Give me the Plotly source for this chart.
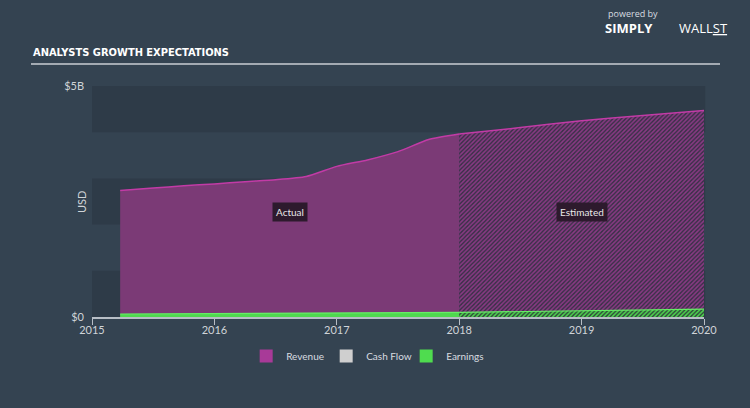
import plotly.graph_objects as go

# ---- data ----
rev_actual_x = [2015.23, 2015.5, 2015.75, 2016.0, 2016.25, 2016.5, 2016.75, 2017.0, 2017.25, 2017.5, 2017.75, 2018.0]
rev_actual_y = [2.74, 2.79, 2.84, 2.88, 2.93, 2.97, 3.04, 3.26, 3.40, 3.58, 3.84, 3.96]
rev_est_x = [2018.0, 2018.5, 2019.0, 2019.5, 2020.0]
rev_est_y = [3.96, 4.10, 4.25, 4.36, 4.47]
earn_actual_x = [2015.23, 2015.75, 2016.25, 2016.75, 2017.25, 2017.75, 2018.0]
earn_actual_y = [0.065, 0.07, 0.075, 0.085, 0.09, 0.095, 0.10]
earn_est_x = [2018.0, 2019.0, 2020.0]
earn_est_y = [0.10, 0.14, 0.17]
year_ticks = [2015, 2016, 2017, 2018, 2019, 2020]
y_ticks = [0, 5]
y_ticktext = ["$0", "$5B"]
legend_names = ["Revenue", "Cash Flow", "Earnings"]
legend_colors = ["#a83a98", "#cfcfcf", "#4fdc4f"]

BG = "#344351"
BAND = "#2e3b48"
REV_FILL = "#7b3a76"
REV_LINE = "#c23ba6"
EARN_FILL = "#4fd84f"
EARN_LINE = "#66ee66"
FONT = "Lato"

fig = go.Figure()

fig.add_trace(go.Scatter(x=rev_actual_x, y=rev_actual_y, mode="lines", fill="tozeroy",
                         line=dict(color=REV_LINE, width=1.5, shape="spline", smoothing=0.6),
                         fillcolor=REV_FILL, showlegend=False, hoverinfo="skip"))
fig.add_trace(go.Scatter(x=rev_est_x, y=rev_est_y, mode="lines", fill="tozeroy",
                         line=dict(color=REV_LINE, width=1.5, shape="spline", smoothing=0.6),
                         fillpattern=dict(shape="/", bgcolor="#3a3048", fgcolor="#8c3a86",
                                          size=3, solidity=0.5, fillmode="replace"),
                         showlegend=False, hoverinfo="skip"))
fig.add_trace(go.Scatter(x=earn_actual_x, y=earn_actual_y, mode="lines", fill="tozeroy",
                         line=dict(color=EARN_LINE, width=1.2),
                         fillcolor=EARN_FILL, showlegend=False, hoverinfo="skip"))
fig.add_trace(go.Scatter(x=earn_est_x, y=earn_est_y, mode="lines", fill="tozeroy",
                         line=dict(color=EARN_LINE, width=1.2),
                         fillpattern=dict(shape="/", bgcolor="#2f4a3a", fgcolor="#4fd84f",
                                          size=3, solidity=0.5, fillmode="replace"),
                         showlegend=False, hoverinfo="skip"))

for name, col in zip(legend_names, legend_colors):
    fig.add_trace(go.Scatter(x=[None], y=[None], mode="markers", name=name,
                             marker=dict(symbol="square", size=13, color=col)))

shapes = []
for lo in [0, 2, 4]:
    shapes.append(dict(type="rect", xref="paper", yref="y", x0=0, x1=1.002, y0=lo, y1=lo + 1,
                       fillcolor=BAND, line=dict(width=0), layer="below"))
# title underline
shapes.append(dict(type="line", xref="paper", yref="paper",
                   x0=(31 - 92) / 612, x1=(720 - 92) / 612,
                   y0=(317 - 64) / 231, y1=(317 - 64) / 231,
                   line=dict(color="#c9cdd3", width=1.5)))

def px(xp):
    return (xp - 92) / 612

def py(yp):
    return (317 - yp) / 231

annotations = [
    dict(text="ANALYSTS GROWTH EXPECTATIONS", xref="paper", yref="paper", x=px(31), y=py(52),
         xanchor="left", yanchor="middle", showarrow=False,
         font=dict(family="DejaVu Sans Condensed, DejaVu Sans, sans-serif", size=11,
                   color="#ffffff", weight="bold")),
    dict(text="USD", xref="paper", yref="paper", x=px(81), y=py(202), textangle=-90,
         xanchor="center", yanchor="middle", showarrow=False,
         font=dict(family=FONT, size=11, color="#d0d4d8")),
    dict(text="Actual", x=2016.62, y=2.27, showarrow=False, bgcolor="#2d1a2d",
         borderpad=3, font=dict(family=FONT, size=10, color="#e8e8e8")),
    dict(text="Estimated", x=2019.0, y=2.27, showarrow=False, bgcolor="#2d1a2d",
         borderpad=3, font=dict(family=FONT, size=10, color="#e8e8e8")),
    dict(text="powered by", xref="paper", yref="paper", x=px(606), y=py(14),
         xanchor="left", yanchor="middle", showarrow=False,
         font=dict(family="Open Sans", size=9, color="#d8dce0")),
    dict(text="<b>SIMPLY</b>", xref="paper", yref="paper", x=px(655), y=py(28),
         xanchor="right", yanchor="middle", showarrow=False,
         font=dict(family="Open Sans", size=13, color="#ffffff")),
    dict(text="WALL<u>ST</u>", xref="paper", yref="paper", x=px(677), y=py(28),
         xanchor="left", yanchor="middle", showarrow=False,
         font=dict(family="Open Sans", size=13, color="#ffffff")),
]

fig.update_layout(
    width=750, height=408,
    margin=dict(l=92, r=46, t=86, b=91),
    paper_bgcolor=BG, plot_bgcolor=BG,
    font=dict(family=FONT, color="#d0d4d8", size=11),
    xaxis=dict(range=[2015, 2020], tickvals=year_ticks, ticktext=[str(t) for t in year_ticks],
               showgrid=False, zeroline=False, showline=True, linecolor="#b8bec6", linewidth=1.5,
               ticks="outside", ticklen=6, tickcolor="#b8bec6", ticklabelstandoff=-4,
               tickfont=dict(size=11, color="#d0d4d8")),
    yaxis=dict(range=[0, 5], tickvals=y_ticks, ticktext=y_ticktext, showgrid=False,
               zeroline=False, showline=False, ticks="", ticklabelstandoff=7,
               tickfont=dict(size=11, color="#d0d4d8")),
    legend=dict(orientation="h", x=0.448, xanchor="center", y=py(356), yanchor="middle",
                font=dict(family=FONT, size=10, color="#d8dce0"), bgcolor="rgba(0,0,0,0)",
                entrywidth=35, itemwidth=30),
    shapes=shapes, annotations=annotations,
)

fig.write_html("out.html")
